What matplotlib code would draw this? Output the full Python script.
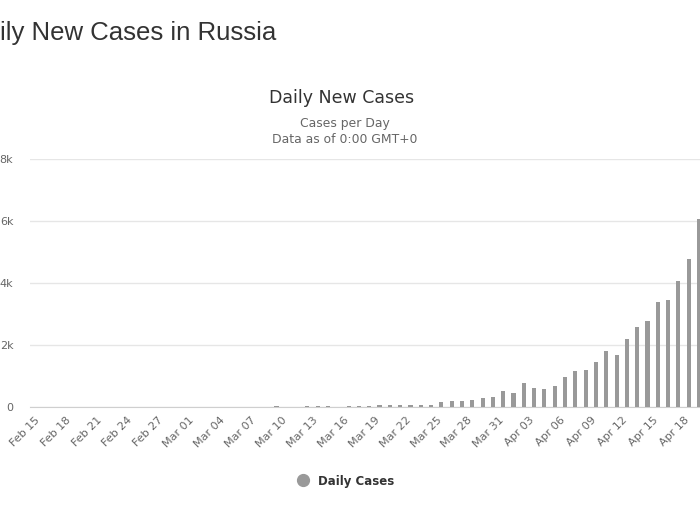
import matplotlib.pyplot as plt
import numpy as np
import pandas as pd
from matplotlib.lines import Line2D
from matplotlib.transforms import ScaledTranslation

# jours du 15 fev au 19 avr 2020
dates = pd.date_range("2020-02-15", "2020-04-19", freq="D")

# nouveaux cas par jour
cases_feb = [0] * 15                      # Feb 15 .. Feb 29
cases_mar = [0, 1, 0, 0, 1, 6, 0, 0, 7, 0, 3, 8, 17, 14, 4, 30,
             21, 33, 52, 54, 53, 61, 71, 57, 163, 182, 196, 228, 270, 302, 501]
cases_apr = [440, 771, 601, 582, 658, 954, 1154, 1175, 1459, 1786,
             1667, 2186, 2558, 2774, 3388, 3448, 4070, 4785, 6060]
daily_cases = cases_feb + cases_mar + cases_apr

y_ticks = [0, 2000, 4000, 6000, 8000]
y_labels = ["0", "2k", "4k", "6k", "8k"]

W, H = 700, 525
fig = plt.figure(figsize=(W / 100, H / 100), dpi=100)
fig.patch.set_facecolor("white")

# zone du graphe (en pixels de l'image)
left_px, right_px, top_px, bottom_px = 30, 700, 159, 406.7
ax = fig.add_axes([left_px / W, 1 - bottom_px / H,
                   (right_px - left_px) / W, (bottom_px - top_px) / H])

x = np.arange(len(daily_cases))
px_per_day = (699 - 39.5) / (len(x) - 1)
ax.bar(x, daily_cases, width=0.4, color="#999999", zorder=3)
ax.set_xlim(-(39.5 - left_px) / px_per_day, len(x) - 1 + (right_px - 699) / px_per_day)
ax.set_ylim(0, 8000)

ax.set_yticks(y_ticks)
ax.set_yticklabels(y_labels)
ax.grid(True, axis="y", color="#e6e6e6", linewidth=1, zorder=0)
for s in ["left", "right", "top"]:
    ax.spines[s].set_visible(False)
ax.spines["bottom"].set_color("#cfcfcf")
ax.tick_params(axis="y", length=0, pad=12, labelsize=8, labelcolor="#666666")
ax.tick_params(axis="x", length=0, pad=6, labelsize=8, labelcolor="#666666")

tick_pos = x[::3]
ax.set_xticks(tick_pos)
ax.set_xticklabels([d.strftime("%b %d") for d in dates[::3]],
                   rotation=45, ha="right", rotation_mode="anchor")
# petit decalage vers la gauche comme sur l'original
shift = ScaledTranslation(-5 / 100, 0, fig.dpi_scale_trans)
for lab in ax.get_xticklabels():
    lab.set_transform(lab.get_transform() + shift)

# titres
fig.text(-32.7 / W, 1 - 40 / H, "Daily New Cases in Russia", fontsize=18.5,
         family="Liberation Sans", color="#333333", va="baseline", ha="left")
fig.text(342 / W, 1 - 103 / H, "Daily New Cases", fontsize=12.5,
         color="#333333", ha="center", va="baseline")
fig.text(345 / W, 1 - 127 / H, "Cases per Day", fontsize=8.9,
         color="#666666", ha="center", va="baseline")
fig.text(345 / W, 1 - 143 / H, "Data as of 0:00 GMT+0", fontsize=8.9,
         color="#666666", ha="center", va="baseline")

# legende
handle = Line2D([], [], marker="o", linestyle="none", markersize=8.5,
                markerfacecolor="#999999", markeredgecolor="#999999")
leg = fig.legend([handle], ["Daily Cases"], loc="center",
                 bbox_to_anchor=(345.6 / W, 1 - 481 / H), frameon=False,
                 handletextpad=0.7, handlelength=1.0,
                 prop={"weight": "bold", "size": 8.5})
leg.get_texts()[0].set_color("#333333")

fig.savefig("out.png", dpi=100)
